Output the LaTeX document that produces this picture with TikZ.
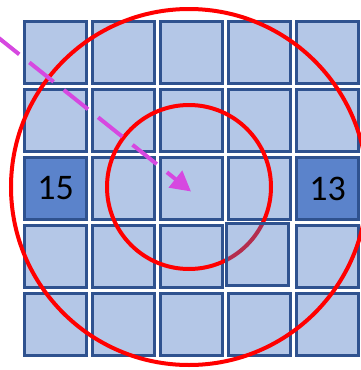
\documentclass[tikz,border=0pt]{standalone}
\usepackage{fontspec}
\setmainfont{Carlito}
\usetikzlibrary{arrows.meta}
\definecolor{cellfill}{RGB}{68,114,196}
\definecolor{celledge}{RGB}{47,82,143}
\definecolor{ringred}{RGB}{255,0,0}
\definecolor{arrowpink}{RGB}{214,72,224}
\tikzset{
  cell/.style={draw=celledge, line width=3pt, fill=cellfill, fill opacity=0.4,
    text opacity=1, minimum size=62.5pt, inner sep=0pt},
  hotcell/.style={cell, fill opacity=0.8, font=\fontsize{36}{40}\selectfont},
  ring/.style={draw=ringred, line width=4pt},
}
\begin{document}
\begin{tikzpicture}[x=1pt, y=-1pt, >={Triangle[width=21pt,length=20pt]}]
\useasboundingbox (0,0) rectangle (360,370);
% grid of cells
\foreach \r in {0,...,4} {
  \foreach \c in {0,...,4} {
    \ifnum\r=3 \ifnum\c=3 \else
      \node[cell] (c\r\c) at (55.5+68*\c, 52.5+68*\r) {};
    \fi \else
      \node[cell] (c\r\c) at (55.5+68*\c, 52.5+68*\r) {};
    \fi
  }
}
\node[hotcell] (left) at (55.5,188.5) {15};
\node[hotcell] (right) at (327.5,188.5) {13};
% rings around the target
\coordinate (centre) at (189,187);
\draw[ring] (centre) circle[radius=82];
\draw[ring] (centre) circle[radius=178];
% the odd cell sits on top of the inner ring
\node[cell] (c33) at (257.5,254.5) {};
% incoming move
\coordinate (from) at (-5,35);
\coordinate (tip) at (191,191.5);
\draw[->, arrowpink, line width=4pt, dash pattern=on 31pt off 13pt] (from) -- (tip);
\end{tikzpicture}
\end{document}
